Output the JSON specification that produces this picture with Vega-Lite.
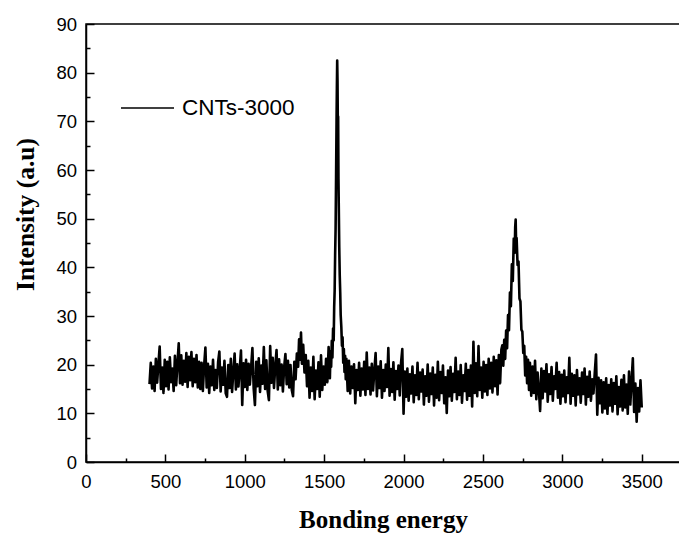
{
  "$schema": "https://vega.github.io/schema/vega-lite/v6.json",
  "width": 594,
  "height": 438,
  "autosize": {"type": "none"},
  "padding": {"left": 86, "top": 24, "right": 0, "bottom": 72},
  "background": "white",
  "config": {
    "view": {"stroke": "black", "strokeWidth": 1.5},
    "axis": {
      "domainColor": "black", "domainWidth": 1.5,
      "tickColor": "black", "tickWidth": 1.5,
      "labelColor": "black", "labelFont": "Liberation Sans", "labelFontSize": 18.5,
      "labelFlush": false, "labelOverlap": false,
      "grid": false,
      "titleColor": "black", "titleFont": "Liberation Serif", "titleFontSize": 25, "titleFontWeight": "bold"
    }
  },
  "data": {"values": [
    {"energy":400,"intensity":16.0},{"energy":408,"intensity":20.4},{"energy":416,"intensity":15.1},{"energy":424,"intensity":19.6},
    {"energy":432,"intensity":14.6},{"energy":440,"intensity":21.2},{"energy":448,"intensity":16.3},{"energy":456,"intensity":20.1},
    {"energy":464,"intensity":23.7},{"energy":472,"intensity":15.0},{"energy":480,"intensity":19.4},{"energy":488,"intensity":14.2},
    {"energy":496,"intensity":21.0},{"energy":504,"intensity":15.6},{"energy":512,"intensity":20.6},{"energy":520,"intensity":14.9},
    {"energy":528,"intensity":21.5},{"energy":536,"intensity":16.4},{"energy":544,"intensity":19.2},{"energy":552,"intensity":14.6},
    {"energy":560,"intensity":21.8},{"energy":568,"intensity":15.8},{"energy":576,"intensity":20.3},{"energy":584,"intensity":24.4},
    {"energy":592,"intensity":16.2},{"energy":600,"intensity":21.9},{"energy":608,"intensity":15.9},{"energy":616,"intensity":20.8},
    {"energy":624,"intensity":16.5},{"energy":632,"intensity":22.4},{"energy":640,"intensity":15.4},{"energy":648,"intensity":21.6},
    {"energy":656,"intensity":16.8},{"energy":664,"intensity":22.6},{"energy":672,"intensity":15.6},{"energy":680,"intensity":21.2},
    {"energy":688,"intensity":16.4},{"energy":696,"intensity":22.0},{"energy":704,"intensity":15.3},{"energy":712,"intensity":20.6},
    {"energy":720,"intensity":15.0},{"energy":728,"intensity":20.4},{"energy":736,"intensity":14.6},{"energy":744,"intensity":19.8},
    {"energy":752,"intensity":23.5},{"energy":760,"intensity":15.3},{"energy":768,"intensity":20.2},{"energy":776,"intensity":14.2},
    {"energy":784,"intensity":19.6},{"energy":792,"intensity":15.8},{"energy":800,"intensity":21.0},{"energy":808,"intensity":14.8},
    {"energy":816,"intensity":18.9},{"energy":824,"intensity":15.2},{"energy":832,"intensity":20.5},{"energy":840,"intensity":22.7},
    {"energy":848,"intensity":14.5},{"energy":856,"intensity":19.4},{"energy":864,"intensity":15.9},{"energy":872,"intensity":20.8},
    {"energy":880,"intensity":14.1},{"energy":888,"intensity":13.4},{"energy":896,"intensity":19.9},{"energy":904,"intensity":15.2},
    {"energy":912,"intensity":21.2},{"energy":920,"intensity":14.4},{"energy":928,"intensity":18.6},{"energy":936,"intensity":22.3},
    {"energy":944,"intensity":14.9},{"energy":952,"intensity":20.1},{"energy":960,"intensity":15.5},{"energy":968,"intensity":19.0},
    {"energy":976,"intensity":22.9},{"energy":984,"intensity":11.7},{"energy":992,"intensity":20.3},{"energy":1000,"intensity":15.4},
    {"energy":1008,"intensity":21.0},{"energy":1016,"intensity":14.8},{"energy":1024,"intensity":20.2},{"energy":1032,"intensity":15.9},
    {"energy":1040,"intensity":19.5},{"energy":1048,"intensity":23.4},{"energy":1056,"intensity":15.1},{"energy":1064,"intensity":11.7},
    {"energy":1072,"intensity":20.6},{"energy":1080,"intensity":15.6},{"energy":1088,"intensity":21.3},{"energy":1096,"intensity":14.4},
    {"energy":1104,"intensity":19.8},{"energy":1112,"intensity":16.1},{"energy":1120,"intensity":23.6},{"energy":1128,"intensity":15.0},
    {"energy":1136,"intensity":20.9},{"energy":1144,"intensity":14.6},{"energy":1152,"intensity":12.7},{"energy":1160,"intensity":23.8},
    {"energy":1168,"intensity":16.3},{"energy":1176,"intensity":21.4},{"energy":1184,"intensity":15.2},{"energy":1192,"intensity":19.7},
    {"energy":1200,"intensity":23.0},{"energy":1208,"intensity":14.9},{"energy":1216,"intensity":21.1},{"energy":1224,"intensity":15.8},
    {"energy":1232,"intensity":20.0},{"energy":1240,"intensity":14.5},{"energy":1248,"intensity":19.5},{"energy":1256,"intensity":22.2},
    {"energy":1264,"intensity":16.0},{"energy":1272,"intensity":20.8},{"energy":1280,"intensity":15.3},{"energy":1288,"intensity":19.9},
    {"energy":1296,"intensity":14.8},{"energy":1304,"intensity":13.5},{"energy":1312,"intensity":20.6},{"energy":1320,"intensity":17.0},
    {"energy":1328,"intensity":22.3},{"energy":1336,"intensity":19.6},{"energy":1342,"intensity":25.2},{"energy":1348,"intensity":21.0},
    {"energy":1354,"intensity":26.6},{"energy":1360,"intensity":20.2},{"energy":1368,"intensity":24.1},{"energy":1376,"intensity":18.4},
    {"energy":1384,"intensity":22.0},{"energy":1392,"intensity":15.6},{"energy":1400,"intensity":20.8},{"energy":1408,"intensity":13.2},
    {"energy":1416,"intensity":19.4},{"energy":1424,"intensity":14.6},{"energy":1432,"intensity":21.6},{"energy":1440,"intensity":12.9},
    {"energy":1448,"intensity":18.8},{"energy":1456,"intensity":15.0},{"energy":1464,"intensity":20.5},{"energy":1472,"intensity":13.4},
    {"energy":1480,"intensity":21.9},{"energy":1488,"intensity":14.8},{"energy":1496,"intensity":19.6},{"energy":1504,"intensity":15.9},
    {"energy":1512,"intensity":21.2},{"energy":1520,"intensity":16.4},{"energy":1528,"intensity":23.6},{"energy":1536,"intensity":17.2},
    {"energy":1540,"intensity":22.8},{"energy":1544,"intensity":19.6},{"energy":1548,"intensity":24.9},{"energy":1552,"intensity":21.5},
    {"energy":1556,"intensity":27.4},{"energy":1560,"intensity":25.0},{"energy":1563,"intensity":31.8},{"energy":1566,"intensity":35.2},
    {"energy":1569,"intensity":42.5},{"energy":1572,"intensity":48.0},{"energy":1575,"intensity":58.6},{"energy":1578,"intensity":70.2},
    {"energy":1580,"intensity":76.8},{"energy":1582,"intensity":82.5},{"energy":1584,"intensity":78.4},{"energy":1586,"intensity":69.5},
    {"energy":1588,"intensity":71.0},{"energy":1590,"intensity":58.2},{"energy":1592,"intensity":52.6},{"energy":1595,"intensity":44.1},
    {"energy":1598,"intensity":38.4},{"energy":1601,"intensity":35.0},{"energy":1604,"intensity":30.2},{"energy":1608,"intensity":27.8},
    {"energy":1612,"intensity":23.9},{"energy":1616,"intensity":25.6},{"energy":1620,"intensity":20.4},{"energy":1624,"intensity":23.2},
    {"energy":1628,"intensity":18.5},{"energy":1632,"intensity":21.8},{"energy":1636,"intensity":17.0},{"energy":1640,"intensity":21.2},
    {"energy":1648,"intensity":14.6},{"energy":1656,"intensity":20.8},{"energy":1664,"intensity":14.1},{"energy":1672,"intensity":19.6},
    {"energy":1680,"intensity":15.2},{"energy":1688,"intensity":20.1},{"energy":1696,"intensity":12.1},{"energy":1704,"intensity":18.9},
    {"energy":1712,"intensity":14.8},{"energy":1720,"intensity":20.4},{"energy":1728,"intensity":13.6},{"energy":1736,"intensity":19.2},
    {"energy":1744,"intensity":14.9},{"energy":1752,"intensity":20.6},{"energy":1760,"intensity":13.8},{"energy":1768,"intensity":22.5},
    {"energy":1776,"intensity":15.0},{"energy":1784,"intensity":19.4},{"energy":1792,"intensity":13.9},{"energy":1800,"intensity":20.2},
    {"energy":1808,"intensity":14.7},{"energy":1816,"intensity":18.8},{"energy":1824,"intensity":22.4},{"energy":1832,"intensity":13.5},
    {"energy":1840,"intensity":19.6},{"energy":1848,"intensity":15.2},{"energy":1856,"intensity":20.7},{"energy":1864,"intensity":13.2},
    {"energy":1872,"intensity":18.9},{"energy":1880,"intensity":14.6},{"energy":1888,"intensity":20.0},{"energy":1896,"intensity":15.4},
    {"energy":1904,"intensity":23.4},{"energy":1912,"intensity":13.6},{"energy":1920,"intensity":19.1},{"energy":1928,"intensity":14.4},
    {"energy":1936,"intensity":20.5},{"energy":1944,"intensity":12.8},{"energy":1952,"intensity":18.7},{"energy":1960,"intensity":15.0},
    {"energy":1968,"intensity":19.8},{"energy":1976,"intensity":13.7},{"energy":1984,"intensity":20.3},{"energy":1992,"intensity":23.2},
    {"energy":2000,"intensity":9.9},{"energy":2008,"intensity":18.6},{"energy":2016,"intensity":13.4},{"energy":2024,"intensity":19.2},
    {"energy":2032,"intensity":12.6},{"energy":2040,"intensity":18.0},{"energy":2048,"intensity":14.1},{"energy":2056,"intensity":19.6},
    {"energy":2064,"intensity":12.3},{"energy":2072,"intensity":17.8},{"energy":2080,"intensity":13.8},{"energy":2088,"intensity":20.4},
    {"energy":2096,"intensity":12.9},{"energy":2104,"intensity":18.4},{"energy":2112,"intensity":14.5},{"energy":2120,"intensity":19.0},
    {"energy":2128,"intensity":11.8},{"energy":2136,"intensity":17.6},{"energy":2144,"intensity":13.6},{"energy":2152,"intensity":20.0},
    {"energy":2160,"intensity":12.4},{"energy":2168,"intensity":18.2},{"energy":2176,"intensity":14.0},{"energy":2184,"intensity":19.4},
    {"energy":2192,"intensity":11.6},{"energy":2200,"intensity":17.9},{"energy":2208,"intensity":13.2},{"energy":2216,"intensity":20.6},
    {"energy":2224,"intensity":12.7},{"energy":2232,"intensity":18.5},{"energy":2240,"intensity":14.2},{"energy":2248,"intensity":19.8},
    {"energy":2256,"intensity":12.1},{"energy":2264,"intensity":17.4},{"energy":2272,"intensity":10.1},{"energy":2280,"intensity":18.8},
    {"energy":2288,"intensity":13.5},{"energy":2296,"intensity":19.5},{"energy":2304,"intensity":12.6},{"energy":2312,"intensity":18.1},
    {"energy":2320,"intensity":14.4},{"energy":2328,"intensity":21.4},{"energy":2336,"intensity":12.9},{"energy":2344,"intensity":18.6},
    {"energy":2352,"intensity":13.8},{"energy":2360,"intensity":19.9},{"energy":2368,"intensity":12.2},{"energy":2376,"intensity":17.8},
    {"energy":2384,"intensity":14.6},{"energy":2392,"intensity":20.2},{"energy":2400,"intensity":12.8},{"energy":2408,"intensity":18.9},
    {"energy":2416,"intensity":13.6},{"energy":2424,"intensity":19.8},{"energy":2432,"intensity":11.4},{"energy":2440,"intensity":24.7},
    {"energy":2448,"intensity":14.2},{"energy":2456,"intensity":20.3},{"energy":2464,"intensity":13.5},{"energy":2472,"intensity":23.8},
    {"energy":2480,"intensity":14.8},{"energy":2488,"intensity":19.4},{"energy":2496,"intensity":13.2},{"energy":2504,"intensity":20.6},
    {"energy":2512,"intensity":14.5},{"energy":2520,"intensity":19.9},{"energy":2528,"intensity":13.8},{"energy":2536,"intensity":21.2},
    {"energy":2544,"intensity":15.1},{"energy":2552,"intensity":20.4},{"energy":2560,"intensity":14.3},{"energy":2568,"intensity":21.6},
    {"energy":2576,"intensity":15.6},{"energy":2584,"intensity":20.9},{"energy":2592,"intensity":13.9},{"energy":2600,"intensity":22.0},
    {"energy":2608,"intensity":16.2},{"energy":2616,"intensity":23.1},{"energy":2622,"intensity":24.0},{"energy":2628,"intensity":19.8},
    {"energy":2634,"intensity":25.1},{"energy":2640,"intensity":21.2},{"energy":2646,"intensity":27.0},{"energy":2652,"intensity":23.4},
    {"energy":2658,"intensity":30.2},{"energy":2664,"intensity":27.1},{"energy":2670,"intensity":34.8},{"energy":2676,"intensity":32.0},
    {"energy":2682,"intensity":40.6},{"energy":2688,"intensity":37.2},{"energy":2694,"intensity":45.9},{"energy":2700,"intensity":43.0},
    {"energy":2703,"intensity":48.2},{"energy":2706,"intensity":49.8},{"energy":2709,"intensity":44.6},{"energy":2712,"intensity":46.0},
    {"energy":2718,"intensity":40.5},{"energy":2724,"intensity":41.2},{"energy":2730,"intensity":33.6},{"energy":2736,"intensity":33.0},
    {"energy":2742,"intensity":27.2},{"energy":2748,"intensity":26.8},{"energy":2754,"intensity":22.4},{"energy":2760,"intensity":23.9},
    {"energy":2766,"intensity":17.8},{"energy":2772,"intensity":21.6},{"energy":2778,"intensity":16.2},{"energy":2784,"intensity":21.0},
    {"energy":2790,"intensity":14.8},{"energy":2796,"intensity":20.4},{"energy":2804,"intensity":13.6},{"energy":2812,"intensity":19.6},
    {"energy":2820,"intensity":14.2},{"energy":2828,"intensity":20.8},{"energy":2836,"intensity":12.9},{"energy":2844,"intensity":18.4},
    {"energy":2852,"intensity":14.8},{"energy":2860,"intensity":10.5},{"energy":2868,"intensity":19.2},{"energy":2876,"intensity":13.1},
    {"energy":2884,"intensity":18.7},{"energy":2892,"intensity":14.5},{"energy":2900,"intensity":20.1},{"energy":2908,"intensity":12.4},
    {"energy":2916,"intensity":18.0},{"energy":2924,"intensity":14.0},{"energy":2932,"intensity":19.5},{"energy":2940,"intensity":12.6},
    {"energy":2948,"intensity":17.6},{"energy":2956,"intensity":15.0},{"energy":2964,"intensity":20.4},{"energy":2972,"intensity":13.2},
    {"energy":2980,"intensity":18.5},{"energy":2988,"intensity":12.0},{"energy":2996,"intensity":17.9},{"energy":3004,"intensity":13.5},
    {"energy":3012,"intensity":18.8},{"energy":3020,"intensity":12.3},{"energy":3028,"intensity":17.4},{"energy":3036,"intensity":14.2},
    {"energy":3044,"intensity":21.4},{"energy":3052,"intensity":12.0},{"energy":3060,"intensity":18.1},{"energy":3068,"intensity":13.6},
    {"energy":3076,"intensity":17.8},{"energy":3084,"intensity":11.6},{"energy":3092,"intensity":18.9},{"energy":3100,"intensity":13.9},
    {"energy":3108,"intensity":17.2},{"energy":3116,"intensity":12.2},{"energy":3124,"intensity":18.4},{"energy":3132,"intensity":14.0},
    {"energy":3140,"intensity":19.2},{"energy":3148,"intensity":11.8},{"energy":3156,"intensity":17.5},{"energy":3164,"intensity":13.4},
    {"energy":3172,"intensity":18.6},{"energy":3180,"intensity":12.6},{"energy":3188,"intensity":17.0},{"energy":3196,"intensity":14.1},
    {"energy":3204,"intensity":18.2},{"energy":3212,"intensity":22.1},{"energy":3220,"intensity":9.7},{"energy":3228,"intensity":17.3},
    {"energy":3236,"intensity":12.1},{"energy":3244,"intensity":16.8},{"energy":3252,"intensity":10.2},{"energy":3260,"intensity":16.4},
    {"energy":3268,"intensity":11.0},{"energy":3276,"intensity":17.2},{"energy":3284,"intensity":9.9},{"energy":3292,"intensity":15.8},
    {"energy":3300,"intensity":11.6},{"energy":3308,"intensity":17.0},{"energy":3316,"intensity":10.4},{"energy":3324,"intensity":16.2},
    {"energy":3332,"intensity":12.0},{"energy":3340,"intensity":17.6},{"energy":3348,"intensity":9.8},{"energy":3356,"intensity":15.4},
    {"energy":3364,"intensity":11.4},{"energy":3372,"intensity":16.9},{"energy":3380,"intensity":10.6},{"energy":3388,"intensity":17.8},
    {"energy":3396,"intensity":11.2},{"energy":3404,"intensity":15.9},{"energy":3412,"intensity":9.9},{"energy":3420,"intensity":18.6},
    {"energy":3428,"intensity":11.8},{"energy":3436,"intensity":16.6},{"energy":3444,"intensity":21.3},{"energy":3452,"intensity":10.3},
    {"energy":3460,"intensity":16.1},{"energy":3468,"intensity":8.3},{"energy":3476,"intensity":15.2},{"energy":3484,"intensity":10.4},
    {"energy":3492,"intensity":16.8},{"energy":3500,"intensity":11.2}
  ]},
  "layer": [
    {
      "mark": {"type": "line", "strokeWidth": 2.6, "strokeJoin": "round", "clip": true},
      "encoding": {
        "x": {
          "field": "energy", "type": "quantitative",
          "scale": {"domain": [0, 3741], "nice": false, "zero": false},
          "axis": {
            "orient": "bottom", "format": "d",
            "values": [0, 500, 1000, 1500, 2000, 2500, 3000, 3500],
            "tickSize": -8, "labelPadding": 18,
            "title": "Bonding energy", "titleBaseline": "alphabetic", "titleY": 65
          }
        },
        "y": {
          "field": "intensity", "type": "quantitative",
          "scale": {"domain": [0, 90], "nice": false, "zero": false},
          "axis": {
            "orient": "left", "format": "d",
            "values": [0, 10, 20, 30, 40, 50, 60, 70, 80, 90],
            "tickSize": -8, "labelPadding": 17.5,
            "title": "Intensity (a.u)", "titleBaseline": "alphabetic", "titleX": -53, "titleY": 190, "titleFontSize": 25.5
          }
        },
        "color": {
          "datum": "CNTs-3000",
          "scale": {"range": ["black"]},
          "legend": {
            "orient": "none", "legendX": 34, "legendY": 56.5, "padding": 0,
            "title": null, "symbolType": "stroke", "symbolSize": 2809,
            "symbolStrokeWidth": 1.5, "symbolStrokeColor": "black",
            "labelFont": "Liberation Sans", "labelFontSize": 22.5, "labelColor": "black", "labelOffset": 7
          }
        }
      }
    },
    {
      "mark": {"type": "line", "opacity": 0},
      "encoding": {
        "x": {
          "field": "energy", "type": "quantitative",
          "axis": {
            "orient": "bottom",
            "values": [250, 750, 1250, 1750, 2250, 2750, 3250],
            "tickSize": -4, "labels": false, "domain": false, "title": null
          }
        },
        "y": {
          "field": "intensity", "type": "quantitative",
          "axis": {
            "orient": "left",
            "values": [5, 15, 25, 35, 45, 55, 65, 75, 85],
            "tickSize": -4, "labels": false, "domain": false, "title": null
          }
        }
      }
    }
  ],
  "resolve": {"axis": {"x": "independent", "y": "independent"}}
}
